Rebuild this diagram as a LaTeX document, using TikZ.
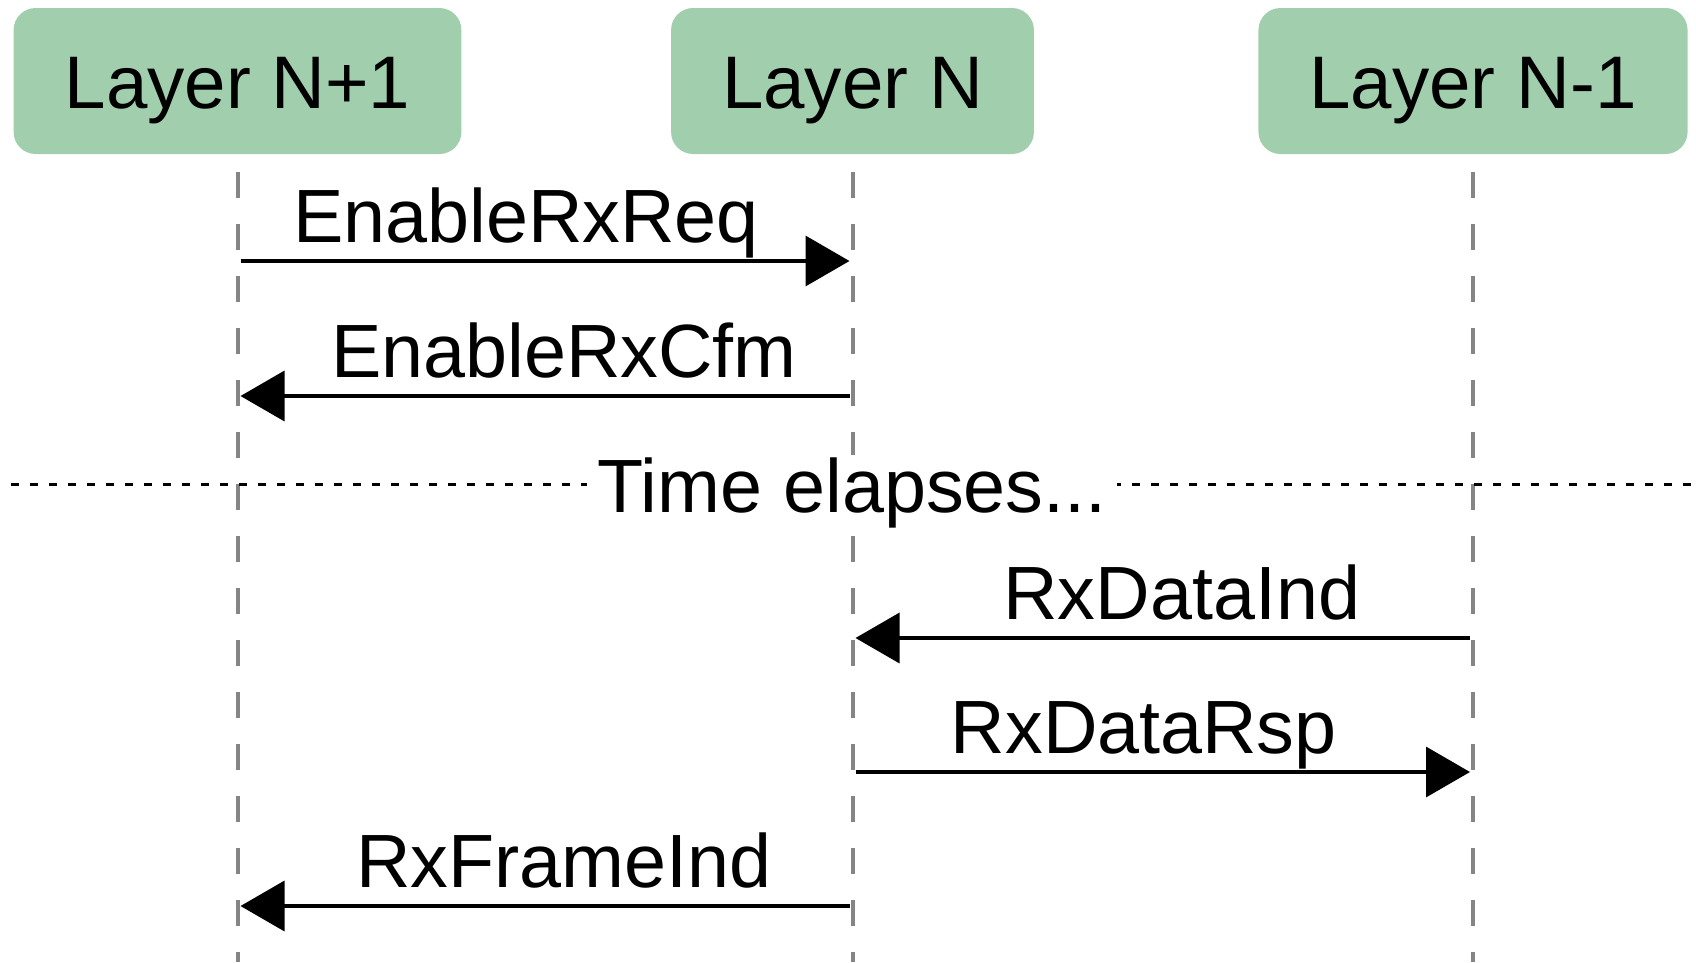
\documentclass[tikz,border=0pt]{standalone}
\usepackage{fontspec}
\setmainfont{Liberation Sans}
\usetikzlibrary{arrows.meta}
\definecolor{layergreen}{HTML}{A1CFAD}
\definecolor{lifegray}{HTML}{858585}
\begin{document}
\begin{tikzpicture}[x=1pt,y=-1pt,
  boxtext/.style={font=\fontsize{74.5}{80}\selectfont},
  msgtext/.style={font=\fontsize{75.5}{80}\selectfont},
  layer/.style={boxtext, fill=layergreen, rounded corners=22pt,
    minimum height=146pt, inner xsep=51pt, inner ysep=0pt,
    text height=54pt, text depth=0pt},
  lifeline/.style={draw=lifegray, line width=4pt, dash pattern=on 26pt off 26pt},
  msg/.style={line width=3.5pt, -{Triangle[length=44pt,width=50pt]},
    shorten <=3pt, shorten >=3pt},
  msglabel/.style={msgtext, anchor=base, inner sep=0pt},
  sepline/.style={line width=3pt, dash pattern=on 7.5pt off 11.5pt}]
\useasboundingbox (0,0) rectangle (1696,962);

% participants
\node[layer] (ln1)  at (237.5,81) {Layer N+1};
\node[layer] (ln)   at (852.5,81) {Layer N};
\node[layer] (lnm1) at (1473,81)  {Layer N-1};

% lifelines
\foreach \p in {ln1,ln,lnm1}
  \draw[lifeline] ([yshift=-18pt]\p.south) -- ([yshift=-808pt]\p.south);

% time separator
\coordinate (sepl) at (11,484);
\coordinate (sepr) at (1696,484);
\draw[sepline] (sepl) -- (sepr);
\node[msglabel, fill=white, inner xsep=10pt, inner ysep=2pt] (gap) at (852,512) {Time elapses...};

% messages
\draw[msg] (ln1 |- 0,261) -- (ln |- 0,261)
  node[msglabel, pos=0.5, xshift=-19pt, yshift=18.5pt] (m1) {EnableRxReq};
\draw[msg] (ln |- 0,396) -- (ln1 |- 0,396)
  node[msglabel, pos=0.5, xshift=19pt, yshift=18.5pt] (m2) {EnableRxCfm};
\draw[msg] (lnm1 |- 0,638) -- (ln |- 0,638)
  node[msglabel, pos=0.5, xshift=19pt, yshift=18.5pt] (m3) {RxDataInd};
\draw[msg] (ln |- 0,772) -- (lnm1 |- 0,772)
  node[msglabel, pos=0.5, xshift=-19pt, yshift=18.5pt] (m4) {RxDataRsp};
\draw[msg] (ln |- 0,906) -- (ln1 |- 0,906)
  node[msglabel, pos=0.5, xshift=19pt, yshift=18.5pt] (m5) {RxFrameInd};
\end{tikzpicture}
\end{document}
